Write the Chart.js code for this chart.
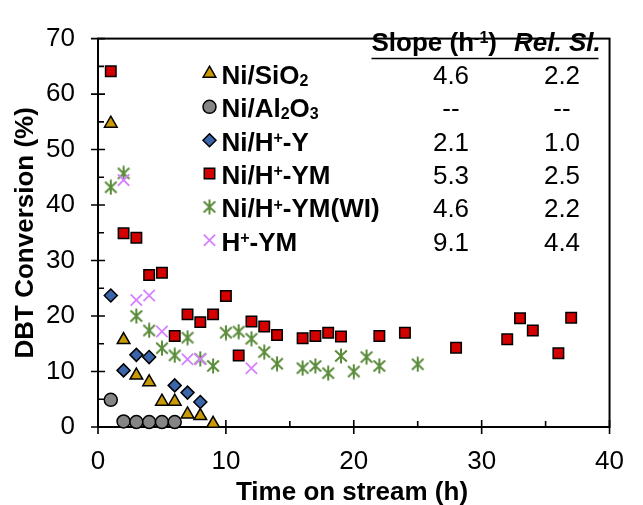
<!DOCTYPE html>
<html><head><meta charset="utf-8">
<script src="https://cdn.jsdelivr.net/npm/chart.js@4.4.1/dist/chart.umd.min.js"></script>
<style>html,body{margin:0;padding:0;background:#fff}canvas{display:block}</style>
</head><body>
<canvas id="c" width="643" height="505"></canvas>
<script>
const FONT = '"Liberation Sans", Arial, Helvetica, sans-serif';

// ---- data ----
const sio2Hours  = [1, 2, 3, 4, 5, 6, 7, 8, 9];
const sio2Conv   = [54.7, 15.7, 9.3, 8.1, 4.6, 4.6, 2.3, 2.0, 0.6];
const al2o3Hours = [1, 2, 3, 4, 5, 6];
const al2o3Conv  = [4.9, 1.0, 0.9, 0.9, 0.9, 0.9];
const hyHours    = [1, 2, 3, 4, 6, 7, 8];
const hyConv     = [23.7, 10.2, 13.0, 12.6, 7.5, 6.2, 4.5];
const hymHours   = [1, 2, 3, 4, 5, 6, 7, 8, 9, 10, 11, 12, 13, 14, 16, 17, 18, 19, 22, 24, 28, 32, 33, 34, 36, 37];
const hymConv    = [64.1, 34.9, 34.1, 27.4, 27.8, 16.4, 20.3, 18.9, 20.3, 23.6, 12.9, 19.0, 18.1, 16.6, 16.0, 16.4, 17.0, 16.3, 16.4, 17.0, 14.3, 15.8, 19.6, 17.4, 13.3, 19.7];
const wiHours    = [1, 2, 3, 4, 5, 6, 7, 8, 9, 10, 11, 12, 13, 14, 16, 17, 18, 19, 20, 21, 22, 25];
const wiConv     = [43.2, 45.7, 20.0, 17.4, 14.2, 12.9, 16.1, 12.3, 11.0, 17.0, 17.2, 15.9, 13.5, 11.4, 10.6, 11.0, 9.7, 12.8, 10.0, 12.6, 11.0, 11.3];
const hHours     = [2, 3, 4, 5, 7, 8, 12];
const hConv      = [44.5, 22.9, 23.7, 17.2, 12.2, 12.2, 10.6];

const xTickValues = [0, 10, 20, 30, 40];
const yTickValues = [0, 10, 20, 30, 40, 50, 60, 70];

const seriesLabels = [
  [['Ni/SiO','n'],['2','sub']],
  [['Ni/Al','n'],['2','sub'],['O','n'],['3','sub']],
  [['Ni/H','n'],['+','sup'],['-Y','n']],
  [['Ni/H','n'],['+','sup'],['-YM','n']],
  [['Ni/H','n'],['+','sup'],['-YM(WI)','n']],
  [['H','n'],['+','sup'],['-YM','n']]
];
const slopeValues    = ['4.6', '--', '2.1', '5.3', '4.6', '9.1'];
const relSlopeValues = ['2.2', '--', '1.0', '2.5', '2.2', '4.4'];
const xTitle = 'Time on stream (h)';
const yTitle = 'DBT Conversion (%)';

// ---- styles ----
function makeStar(color) {
  const c = document.createElement('canvas');
  c.width = 16; c.height = 16;
  const g = c.getContext('2d');
  g.strokeStyle = color; g.lineWidth = 2;
  g.beginPath();
  g.moveTo(8, 0.5); g.lineTo(8, 15.5);
  g.moveTo(2.2, 2.5); g.lineTo(13.8, 13.5);
  g.moveTo(2.2, 13.5); g.lineTo(13.8, 2.5);
  g.stroke();
  return c;
}
const starImg = makeStar('#5B8C3C');

const markerStyles = [
  {pointStyle: 'triangle', radius: 7.3, bg: '#C99A06', border: '#000', bw: 1.5},
  {pointStyle: 'circle',   radius: 6.5, bg: '#858585', border: '#000', bw: 1.5},
  {pointStyle: 'rectRot',  radius: 6.5, bg: '#3A65AA', border: '#000', bw: 1.5},
  {pointStyle: 'rect',     radius: 7.4, bg: '#D40000', border: '#000', bw: 1.5},
  {pointStyle: starImg,    radius: 8,   bg: '#5B8C3C', border: '#5B8C3C', bw: 2},
  {pointStyle: 'crossRot', radius: 8,   bg: '#D580FF', border: '#D580FF', bw: 1.8}
];

const allX = [sio2Hours, al2o3Hours, hyHours, hymHours, wiHours, hHours];
const allY = [sio2Conv, al2o3Conv, hyConv, hymConv, wiConv, hConv];

const datasets = allX.map((xs, i) => ({
  label: 's' + i,
  data: xs.map((h, k) => ({x: h, y: allY[i][k]})),
  pointStyle: markerStyles[i].pointStyle,
  pointRadius: markerStyles[i].radius,
  pointHoverRadius: markerStyles[i].radius,
  backgroundColor: markerStyles[i].bg,
  borderColor: markerStyles[i].border,
  borderWidth: markerStyles[i].bw,
  showLine: false,
  clip: false,
  order: 5 - i
}));

function drawMarker(ctx, st, x, y) {
  ctx.save();
  ctx.fillStyle = st.bg; ctx.strokeStyle = st.border; ctx.lineWidth = st.bw;
  const r = st.radius;
  ctx.beginPath();
  if (st.pointStyle instanceof HTMLCanvasElement) {
    ctx.drawImage(st.pointStyle, x - st.pointStyle.width / 2, y - st.pointStyle.height / 2);
    ctx.restore(); return;
  }
  switch (st.pointStyle) {
    case 'triangle':
      ctx.moveTo(x, y - r);
      ctx.lineTo(x + r * Math.cos(Math.PI / 6), y + r / 2);
      ctx.lineTo(x - r * Math.cos(Math.PI / 6), y + r / 2);
      ctx.closePath(); ctx.fill(); ctx.stroke(); break;
    case 'circle':
      ctx.arc(x, y, r, 0, Math.PI * 2); ctx.fill(); ctx.stroke(); break;
    case 'rectRot':
      ctx.moveTo(x, y - r); ctx.lineTo(x + r, y); ctx.lineTo(x, y + r); ctx.lineTo(x - r, y);
      ctx.closePath(); ctx.fill(); ctx.stroke(); break;
    case 'rect': {
      const s = Math.SQRT1_2 * r;
      ctx.rect(x - s, y - s, 2 * s, 2 * s); ctx.fill(); ctx.stroke(); break;
    }
    case 'crossRot': {
      const s = Math.SQRT1_2 * r;
      ctx.moveTo(x - s, y - s); ctx.lineTo(x + s, y + s);
      ctx.moveTo(x - s, y + s); ctx.lineTo(x + s, y - s);
      ctx.stroke(); break;
    }
  }
  ctx.restore();
}

function drawRich(ctx, parts, x, y, size, weight, style) {
  let cx = x;
  ctx.textAlign = 'left';
  ctx.textBaseline = 'alphabetic';
  for (const [t, m] of parts) {
    const s = m === 'n' ? size : Math.round(size * 0.62);
    const dy = m === 'sub' ? size * 0.08 : (m === 'sup' ? -size * 0.3 : 0);
    ctx.font = `${style} ${weight} ${s}px ${FONT}`;
    ctx.fillText(t, cx, y + dy);
    cx += ctx.measureText(t).width;
  }
  return cx;
}

const decor = {
  id: 'decor',
  beforeDatasetsDraw(chart) {
    const {ctx, chartArea: a, scales: {x, y}} = chart;
    ctx.save();
    ctx.strokeStyle = '#000';
    ctx.lineWidth = 2;
    ctx.strokeRect(a.left, a.top, a.right - a.left, a.bottom - a.top);
    ctx.lineWidth = 1.6;
    ctx.beginPath();
    const yt = y.ticks.map(t => t.value);
    yt.forEach((v, i) => {
      const p = y.getPixelForValue(v);
      ctx.moveTo(a.left - 7, p); ctx.lineTo(a.left + 7, p);
      if (i < yt.length - 1) {
        const pm = y.getPixelForValue((v + yt[i + 1]) / 2);
        ctx.moveTo(a.left, pm); ctx.lineTo(a.left + 6, pm);
      }
    });
    const xt = x.ticks.map(t => t.value);
    xt.forEach((v, i) => {
      const p = x.getPixelForValue(v);
      ctx.moveTo(p, a.bottom - 7); ctx.lineTo(p, a.bottom + 7);
      if (i < xt.length - 1) {
        const pm = x.getPixelForValue((v + xt[i + 1]) / 2);
        ctx.moveTo(pm, a.bottom - 6); ctx.lineTo(pm, a.bottom);
      }
    });
    ctx.stroke();
    ctx.restore();
  },
  afterDraw(chart) {
    const {ctx, chartArea: a} = chart;
    ctx.save();
    ctx.fillStyle = '#000';
    // axis titles
    ctx.font = `bold 26px ${FONT}`;
    ctx.textAlign = 'center';
    ctx.textBaseline = 'alphabetic';
    ctx.fillText(xTitle, 352, 500);
    ctx.save();
    ctx.translate(33, (a.top + a.bottom) / 2);
    ctx.rotate(-Math.PI / 2);
    ctx.fillText(yTitle, 0, 0);
    ctx.restore();

    // header
    drawRich(ctx, [['Slope (h','n'],['-1','sup'],[')','n']], 371.5, 51, 26, 'bold', 'normal');
    drawRich(ctx, [['Rel. Sl.','n']], 514, 51, 26, 'bold', 'italic');
    ctx.strokeStyle = '#000';
    ctx.lineWidth = 1.6;
    ctx.beginPath(); ctx.moveTo(371.5, 58.5); ctx.lineTo(598.5, 58.5); ctx.stroke();

    // legend rows
    for (let i = 0; i < seriesLabels.length; i++) {
      const base = 84 + i * 33.35;
      drawMarker(ctx, markerStyles[i], 209.5, base - 10.5);
      ctx.fillStyle = '#000';
      drawRich(ctx, seriesLabels[i], 221.5, base, 26, 'bold', 'normal');
      ctx.font = `26px ${FONT}`;
      ctx.textAlign = 'center';
      ctx.fillText(slopeValues[i], 451, base);
      ctx.fillText(relSlopeValues[i], 562, base);
    }
    ctx.restore();
  }
};

new Chart(document.getElementById('c'), {
  type: 'scatter',
  data: {datasets},
  plugins: [decor],
  options: {
    responsive: false,
    animation: false,
    devicePixelRatio: 1,
    layout: {padding: {top: 25, right: 14, left: 0, bottom: 0}},
    plugins: {legend: {display: false}, tooltip: {enabled: false}},
    scales: {
      x: {
        type: 'linear', min: 0, max: 40,
        afterBuildTicks: s => { s.ticks = xTickValues.map(v => ({value: v})); },
        afterFit: s => { s.height = 78; },
        grid: {display: false, drawTicks: false},
        border: {display: false},
        ticks: {font: {family: FONT, size: 26}, color: '#000', padding: 19, maxRotation: 0}
      },
      y: {
        type: 'linear', min: 0, max: 70,
        afterBuildTicks: s => { s.ticks = yTickValues.map(v => ({value: v})); },
        afterFit: s => { s.width = 98; },
        grid: {display: false, drawTicks: false},
        border: {display: false},
        ticks: {font: {family: FONT, size: 26}, color: '#000', padding: 23}
      }
    }
  }
});
</script>
</body></html>
